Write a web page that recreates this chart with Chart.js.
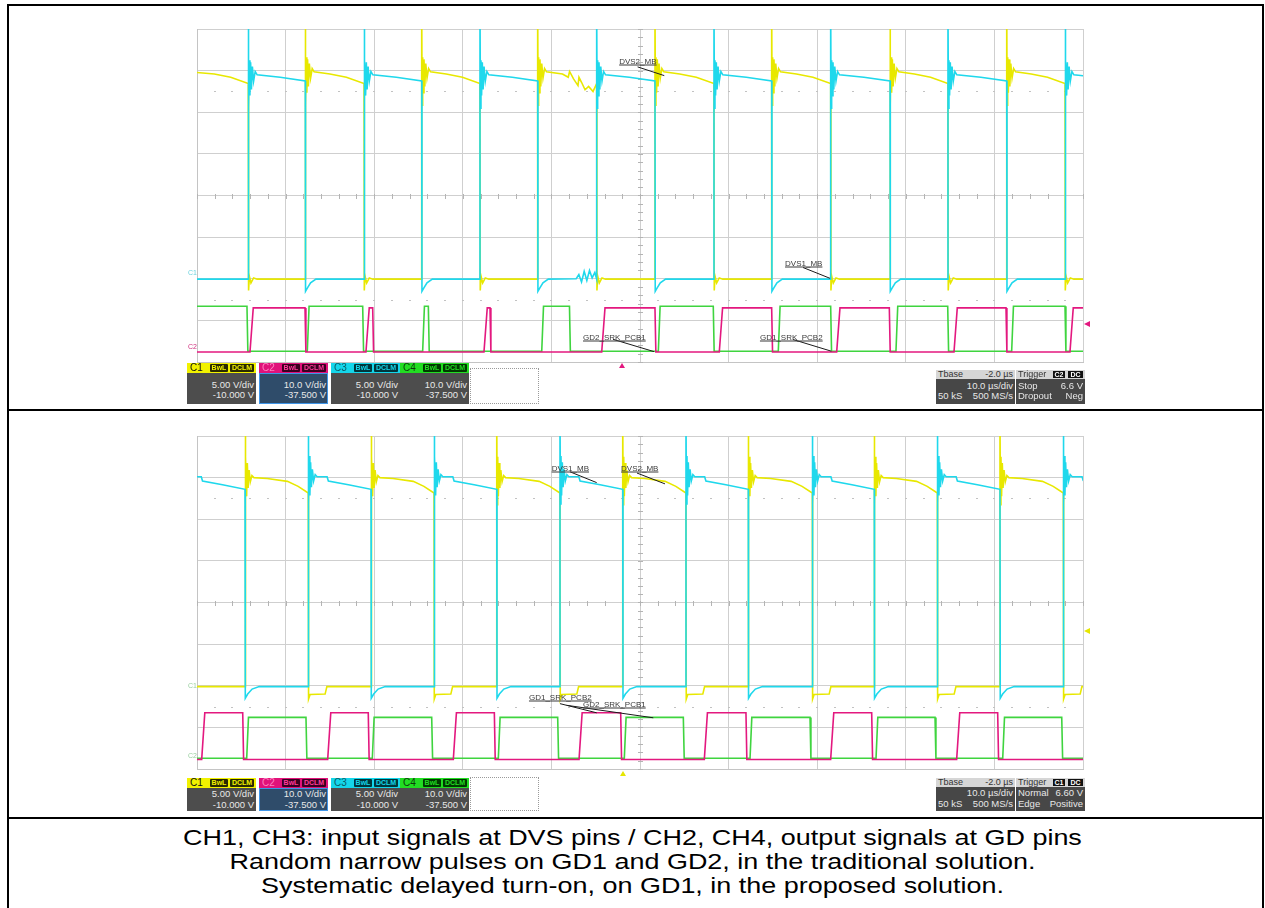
<!DOCTYPE html>
<html><head><meta charset="utf-8">
<script src="https://cdn.jsdelivr.net/npm/chart.js@4.4.1/dist/chart.umd.min.js"></script>
<style>
html,body{margin:0;padding:0;background:#fff;}
#page{position:relative;width:1265px;height:908px;overflow:hidden;font-family:"Liberation Sans",Arial,sans-serif;}
.frame{position:absolute;left:7px;top:4px;width:1253px;height:1000px;border:2px solid #000;}
.rule{position:absolute;left:7px;width:1257px;height:2px;background:#000;}
.scope{position:absolute;left:195px;width:890px;height:337px;}
.scope canvas{position:absolute;left:0;top:0;}
.ann{position:absolute;font-size:8px;color:#3a3a3a;text-decoration:underline;white-space:nowrap;line-height:9px;transform:translateY(-50%);}
.cbox{position:absolute;width:69px;}
.hd{position:relative;height:9.5px;font-size:10px;line-height:10px;}
.hd .n{position:absolute;left:3px;top:0;}
.tag{position:absolute;top:1px;height:7.5px;font-size:7px;line-height:8px;text-align:center;font-weight:bold;border-radius:1px;}
.bd{background:#4d4d4d;color:#e8e8e8;font-size:9.5px;line-height:10.5px;text-align:right;padding-right:2px;box-sizing:border-box;}
.dot{position:absolute;width:69px;border:1px dotted #9a9a9a;box-sizing:border-box;}
.rbox{position:absolute;}
.rhd{position:relative;height:8.5px;background:#d6d6d6;color:#333;font-size:9px;line-height:9px;}
.rbd{background:#474747;color:#e8e8e8;font-size:9.5px;line-height:10.5px;box-sizing:border-box;}
.row{position:relative;height:10.5px;}
.l{position:absolute;left:2px;}
.r{position:absolute;right:2px;}
.ktag{position:absolute;top:0.5px;height:7.5px;background:#111;color:#fff;font-size:7px;line-height:8px;text-align:center;font-weight:bold;}
.mk{position:absolute;font-size:7px;line-height:7px;}
.tri-up{position:absolute;width:0;height:0;border-left:3px solid transparent;border-right:3px solid transparent;}
.tri-left{position:absolute;width:0;height:0;border-top:3px solid transparent;border-bottom:3px solid transparent;}
.cap{position:absolute;left:0;top:826px;width:1265px;text-align:center;font-size:22px;line-height:24px;color:#000;transform:scaleX(1.225);transform-origin:632.5px 0;}
</style></head>
<body><div id="page">
<div class="frame"></div>
<div class="rule" style="top:409px"></div>
<div class="rule" style="top:817px"></div>

<div class="scope" id="scopeTop" style="top:27px"><canvas id="cTop" width="890" height="337"></canvas></div>
<div class="scope" id="scopeBot" style="top:434px"><canvas id="cBot" width="890" height="337"></canvas></div>

<!-- channel markers -->
<div class="mk" style="left:188px;top:269px;color:#6fd3de">C1</div>
<div class="mk" style="left:188px;top:343px;color:#d0307f">C2</div>
<div class="mk" style="left:188px;top:682px;color:#9ad0a0">C1</div>
<div class="mk" style="left:188px;top:752px;color:#9ad0a0">C2</div>
<div class="tri-up" style="left:619px;top:363px;border-bottom:5px solid #e3187f"></div>
<div class="tri-left" style="left:1084px;top:321px;border-right:6px solid #e3187f"></div>
<div class="tri-up" style="left:620px;top:771px;border-bottom:5px solid #e6e600"></div>
<div class="tri-left" style="left:1084px;top:628px;border-right:6px solid #e6e600"></div>

<div id="infoTop"></div>
<div id="infoBot"></div>

<div class="cap">CH1, CH3: input signals at DVS pins / CH2, CH4, output signals at GD pins<br>Random narrow pulses on GD1 and GD2, in the traditional solution.<br>Systematic delayed turn-on, on GD1, in the proposed solution.</div>
</div>
<script>
// ---------------- axes (screen graticule) ----------------
const gridTimes = [-52, -42, -32, -22, -12, -2, 8, 18, 28, 38, 48]; // µs (10 µs/div, Tbase -2 µs)
const gridDivs  = [0, 1, 2, 3, 4, 5, 6, 7, 8];                        // vertical divisions
const dottedRows = [1.5, 6.5];

// ---------------- TOP: traditional solution ----------------
// C1 (yellow, DVS)
const topC1Rise = [-39.78, -26.64, -13.55, -0.31, 12.86, 26.22, 39.39];
const topC1Fall = [-46.21, -33.15, -20.06, -6.89, 6.35, 19.52, 32.76, 45.97];
const topC1High = [[0, 6.97], [0.42, 6.92], [0.7, 6.84], [1, 6.69]];
const topC1Low  = [[0.03, 1.72], [0.12, 2.06], [0.3, 1.9], [0.6, 2.02], [1.0, 1.99]];
const topC1Glitch = [[-10.1, 6.84], [-9.95, 6.98], [-9.5, 6.8], [-9.0, 6.64], [-8.6, 6.72], [-8.2, 6.54], [-7.8, 6.62], [-7.3, 6.5]];
// C3 (cyan, DVS)
const topC3Rise = [-46.21, -33.15, -20.06, -6.89, 6.35, 19.52, 32.76, 45.97];
const topC3Fall = [-39.78, -26.64, -13.55, -0.31, 12.86, 26.22, 39.39];
const topC3High = [[0, 6.9], [0.56, 6.84], [1, 6.75]];
const topC3Low  = [[0.03, 1.7], [0.25, 1.78], [0.6, 1.9], [1.2, 1.99]];
const topC3Glitch = [[-9.2, 2.0], [-8.9, 2.1], [-8.6, 1.92], [-8.3, 2.18], [-8.0, 1.96], [-7.7, 2.2], [-7.4, 2.02], [-7.1, 2.15]];
const topRingT = [0, 0.05, 0.11, 0.18, 0.26, 0.35, 0.46, 0.6, 0.78, 1.0];
const topRing  = [1.7, -0.8, 0.35, -0.5, 0.3, -0.35, 0.2, -0.15, 0.08, 0];
// C2 (magenta, GD) and C4 (green, GD)
const topC2On  = [-46.02, -32.93, -19.61, -6.32, 6.95, 20.20, 33.44, 46.53];
const topC2Off = [-39.81, -32.17, -18.93, -0.31, 12.86, 26.14, 39.31, 49];
const topC2Level = [0.24, 1.30];
const topC4On  = [-53, -39.55, -26.53, -13.09, 0.07, 13.61, 26.89, 39.95];
const topC4Off = [-46.36, -33.30, -25.89, -9.96, 6.27, 19.52, 32.73, 45.97];
const topC4Level = [0.26, 1.34];

// ---------------- BOTTOM: proposed solution ----------------
const botC1Rise = [-46.58, -32.36, -18.17, -3.95, 10.22, 24.44, 38.63];
const botC1Fall = [-39.44, -25.25, -11.03, 3.19, 17.45, 31.56, 45.78];
const botC1High = [[0, 7.0], [0.35, 6.98], [0.67, 6.91], [0.84, 6.79], [1, 6.63]];
const botC1Low  = [[0.03, 1.68], [0.2, 1.79], [1.9, 1.8], [2.1, 1.98]];
const botC3Rise = [-39.44, -25.25, -11.03, 3.19, 17.45, 31.56, 45.78];
const botC3Fall = [-46.58, -32.36, -18.17, -3.95, 10.22, 24.44, 38.63];
const botC3High = [[0, 7.02], [0.3, 7.02], [0.32, 6.92], [0.64, 6.83], [1, 6.72]];
const botC3Low  = [[0.03, 1.7], [0.3, 1.8], [0.8, 1.92], [1.6, 1.98]];
const botRingT = [0, 0.05, 0.11, 0.18, 0.26, 0.35, 0.46, 0.6, 0.78, 1.0];
const botRing  = [1.5, -0.65, 0.5, -0.45, 0.35, -0.25, 0.18, -0.1, 0.05, 0];
const botC2On  = [-51.47, -37.25, -23.07, -8.88, 5.26, 19.52, 33.74];
const botC2Off = [-46.84, -32.67, -18.44, -4.18, 9.96, 24.15, 38.37];
const botC2Level = [0.23, 1.35];
const botC4On  = [-46.39, -32.21, -17.99, -3.77, 10.42, 24.64, 38.94];
const botC4Off = [-39.70, -25.51, -11.29, 2.89, 17.19, 31.30, 45.60];
const botC4Level = [0.26, 1.24];

// ---------------- annotations ----------------
const topAnnLabels = ['DVS2_MB', 'DVS1_MB', 'GD2_SRK_PCB1', 'GD1_SRK_PCB2'];
const topAnnText   = [[-4.35, 7.23], [14.37, 2.38], [-8.43, 0.60], [11.54, 0.60]];
const topAnnLine   = [[-2.27, 7.09, 0.74, 6.88], [16.40, 2.27, 19.45, 2.01], [-5.05, 0.545, -0.42, 0.25], [15.27, 0.54, 19.59, 0.26]];
const botAnnLabels = ['DVS1_MB', 'DVS2_MB', 'GD1_SRK_PCB2', 'GD2_SRK_PCB1'];
const botAnnText   = [[-11.97, 7.23], [-4.14, 7.23], [-14.53, 1.72], [-8.43, 1.57]];
const botAnnLine   = [[-9.90, 7.14, -6.89, 6.88], [-2.34, 7.11, 0.82, 6.85], [-11.03, 1.57, -6.89, 1.35], [-10.27, 1.53, -0.50, 1.23]];

// ---------------- colours ----------------
const colC1 = '#e8e800', colC2 = '#e3187f', colC3 = '#1fd8ec', colC4 = '#3fd43f';

// ---------------- trace builders ----------------
function dvsTrace(rise, fall, highProf, lowProf, ringT, ring, extra) {
  const ev = rise.map(t => [t, 1]).concat(fall.map(t => [t, 0])).sort((a, b) => a[0] - b[0]);
  const durs = [];
  rise.forEach(r => { const f = fall.find(x => x > r); if (f !== undefined) durs.push(f - r); });
  const dHigh = durs.reduce((a, b) => a + b, 0) / durs.length;
  const lowEnd = lowProf[lowProf.length - 1][1];
  const pts = [];
  const push = (x, y) => { if (!pts.length || x >= pts[pts.length - 1].x) pts.push({x, y}); };
  const highSeg = (start, end, ringOn) => {
    const s = start === null ? end - dHigh : start;
    const e = end === null ? s + dHigh : end;
    if (ringOn) ringT.forEach((dt, i) => push(s + dt, highProf[0][1] + ring[i]));
    else push(s, highProf[0][1]);
    highProf.forEach(([f, v]) => { const t = s + f * (e - s); if (f > 0 && t > s + ringT[ringT.length - 1]) push(t, v); });
  };
  const startHigh = ev[0][1] === 0;
  if (startHigh) highSeg(null, ev[0][0], false); else push(-60, lowEnd);
  ev.forEach((e, k) => {
    const next = k + 1 < ev.length ? ev[k + 1][0] : null;
    if (e[1] === 1) { push(e[0], lowEnd); highSeg(e[0], next, true); }
    else { lowProf.forEach(([dt, v]) => push(e[0] + dt, v)); }
  });
  if (!ev.length || ev[ev.length - 1][1] === 0) push(60, lowEnd);
  let out = pts;
  if (extra) out = pts.concat(extra.map(([x, y]) => ({x, y}))).sort((a, b) => a.x - b.x);
  return out;
}
function gdTrace(on, off, level, up, down) {
  const [lo, hi] = level;
  const pts = [{x: -60, y: lo}];
  on.forEach((t, i) => {
    pts.push({x: t, y: lo}, {x: t + up, y: hi}, {x: off[i], y: hi}, {x: off[i] + down, y: lo});
  });
  pts.push({x: 60, y: lo});
  return pts;
}

// ---------------- plugins ----------------
const scopeDeco = {
  id: 'scopeDeco',
  beforeDatasetsDraw(chart) {
    const {ctx, scales: {x, y}} = chart;
    ctx.save();
    ctx.strokeStyle = '#b4b4b4'; ctx.lineWidth = 1;
    const cx = Math.round(x.getPixelForValue(-2)) + 0.5;
    const cy = Math.round(y.getPixelForValue(4)) + 0.5;
    ctx.beginPath();
    for (let v = -52; v <= 48.01; v += 2) { const px = Math.round(x.getPixelForValue(v)) + 0.5; ctx.moveTo(px, cy - 2.5); ctx.lineTo(px, cy + 2.5); }
    for (let v = 0; v <= 8.01; v += 0.2) { const py = Math.round(y.getPixelForValue(v)) + 0.5; ctx.moveTo(cx - 2.5, py); ctx.lineTo(cx + 2.5, py); }
    ctx.stroke();
    ctx.fillStyle = '#c2c2c2';
    dottedRows.forEach(d => {
      const py = Math.round(y.getPixelForValue(d));
      for (let v = -50; v <= 46.01; v += 2) { const px = Math.round(x.getPixelForValue(v)); ctx.fillRect(px - 1, py, 2, 1); }
    });
    ctx.restore();
  }
};
function annPlugin(labels, textPos, linePos, container) {
  return {
    id: 'ann',
    afterDatasetsDraw(chart) {
      const {ctx, scales: {x, y}} = chart;
      ctx.save();
      ctx.strokeStyle = '#1a1a1a'; ctx.lineWidth = 1;
      ctx.beginPath();
      linePos.forEach(l => { ctx.moveTo(x.getPixelForValue(l[0]), y.getPixelForValue(l[1])); ctx.lineTo(x.getPixelForValue(l[2]), y.getPixelForValue(l[3])); });
      ctx.stroke();
      ctx.restore();
      labels.forEach((s, i) => {
        let el = container.querySelector('[data-i="' + i + '"]');
        if (!el) { el = document.createElement('div'); el.className = 'ann'; el.dataset.i = i; el.textContent = s; container.appendChild(el); }
        el.style.left = x.getPixelForValue(textPos[i][0]) + 'px';
        el.style.top = y.getPixelForValue(textPos[i][1]) + 'px';
      });
    }
  };
}

function makeScope(canvasId, containerId, datasets, annL, annT, annLn) {
  const ds = datasets.map(d => ({data: d.data, borderColor: d.color, borderWidth: 1.6, pointRadius: 0, tension: 0, clip: 0, fill: false}));
  return new Chart(document.getElementById(canvasId), {
    type: 'line',
    data: {datasets: ds},
    options: {
      responsive: false, animation: false, devicePixelRatio: 1, parsing: false, normalized: true,
      layout: {padding: 2},
      plugins: {legend: {display: false}, tooltip: {enabled: false}},
      events: [],
      scales: {
        x: {type: 'linear', min: gridTimes[0], max: gridTimes[gridTimes.length - 1],
            afterBuildTicks: s => { s.ticks = gridTimes.map(v => ({value: v})); },
            ticks: {display: false}, grid: {color: '#cfcfcf', lineWidth: 1, drawTicks: false},
            border: {display: true, color: '#c4c4c4'}},
        y: {type: 'linear', min: gridDivs[0], max: gridDivs[gridDivs.length - 1],
            afterBuildTicks: s => { s.ticks = gridDivs.map(v => ({value: v})); },
            ticks: {display: false}, grid: {color: '#cfcfcf', lineWidth: 1, drawTicks: false},
            border: {display: true, color: '#c4c4c4'}}
      }
    },
    plugins: [scopeDeco, annPlugin(annL, annT, annLn, document.getElementById(containerId))]
  });
}

// dataset 0 is drawn on top
makeScope('cTop', 'scopeTop', [
  {data: gdTrace(topC2On, topC2Off, topC2Level, 0.37, 0.1), color: colC2},
  {data: gdTrace(topC4On, topC4Off, topC4Level, 0.2, 0.1), color: colC4},
  {data: dvsTrace(topC3Rise, topC3Fall, topC3High, topC3Low, topRingT, topRing, topC3Glitch), color: colC3},
  {data: dvsTrace(topC1Rise, topC1Fall, topC1High, topC1Low, topRingT, topRing, topC1Glitch), color: colC1}
], topAnnLabels, topAnnText, topAnnLine);

makeScope('cBot', 'scopeBot', [
  {data: gdTrace(botC2On, botC2Off, botC2Level, 0.35, 0.1), color: colC2},
  {data: gdTrace(botC4On, botC4Off, botC4Level, 0.2, 0.1), color: colC4},
  {data: dvsTrace(botC3Rise, botC3Fall, botC3High, botC3Low, botRingT, botRing, null), color: colC3},
  {data: dvsTrace(botC1Rise, botC1Fall, botC1High, botC1Low, botRingT, botRing, null), color: colC1}
], botAnnLabels, botAnnText, botAnnLine);

// ---------------- scope info bars ----------------
const chanNames = ['C1', 'C2', 'C3', 'C4'];
const chanScale = ['5.00 V/div', '10.0 V/div', '5.00 V/div', '10.0 V/div'];
const chanOffset = ['-10.000 V', '-37.500 V', '-10.000 V', '-37.500 V'];
const chanHead = ['#f2f200', '#e0127a', '#14d6ea', '#22dd22'];
const chanText = ['#111', '#ff7fc0', '#0b5b66', '#0b3a0b'];
const chanTagBg = ['#2a2a00', '#3a0020', '#00363c', '#003a00'];
const chanTagFg = ['#f2f200', '#ff3b9a', '#14d6ea', '#22dd22'];
const chanLeft = [187, 259, 331, 400];
const trigTop = ['C2', 'DC', 'Stop', '6.6 V', 'Dropout', 'Neg'];
const trigBot = ['C1', 'DC', 'Normal', '6.60 V', 'Edge', 'Positive'];

// g: {top, bottom, pad, rTop, rPad, dotTop}
function infoBar(el, g, trig) {
  let h = '';
  const bodyH = g.bottom - g.top - 9.5;
  chanNames.forEach((n, i) => {
    const sel = i === 1;
    h += '<div class="cbox" style="left:' + chanLeft[i] + 'px;top:' + g.top + 'px">' +
      '<div class="hd" style="background:' + chanHead[i] + ';color:' + chanText[i] + '"><span class="n">' + n + '</span>' +
      '<span class="tag" style="left:23px;width:18px;background:' + chanTagBg[i] + ';color:' + chanTagFg[i] + '">BwL</span>' +
      '<span class="tag" style="left:43px;width:24px;background:' + chanTagBg[i] + ';color:' + chanTagFg[i] + '">DCLM</span></div>' +
      '<div class="bd" style="height:' + bodyH + 'px;padding-top:' + g.pad + 'px;' + (sel ? 'background:#2f4c6a;box-shadow:inset 0 0 0 1px #3f95e8;' : '') + '">' +
      '<div>' + chanScale[i] + '</div><div>' + chanOffset[i] + '</div></div></div>';
  });
  h += '<div class="dot" style="left:470px;top:' + g.dotTop + 'px;height:' + (g.bottom - g.dotTop) + 'px"></div>';
  const rH = g.bottom - g.rTop - 8.5;
  h += '<div class="rbox" style="left:936px;top:' + g.rTop + 'px;width:79px">' +
    '<div class="rhd"><span class="l">Tbase</span><span class="r">-2.0 µs</span></div>' +
    '<div class="rbd" style="height:' + rH + 'px;padding-top:' + g.rPad + 'px"><div class="row"><span class="r">10.0 µs/div</span></div>' +
    '<div class="row"><span class="l">50 kS</span><span class="r">500 MS/s</span></div></div></div>';
  h += '<div class="rbox" style="left:1016px;top:' + g.rTop + 'px;width:69px">' +
    '<div class="rhd"><span class="l">Trigger</span><span class="ktag" style="left:37px;width:12px">' + trig[0] + '</span>' +
    '<span class="ktag" style="left:52px;width:15px">' + trig[1] + '</span></div>' +
    '<div class="rbd" style="height:' + rH + 'px;padding-top:' + g.rPad + 'px"><div class="row"><span class="l">' + trig[2] + '</span><span class="r">' + trig[3] + '</span></div>' +
    '<div class="row"><span class="l">' + trig[4] + '</span><span class="r">' + trig[5] + '</span></div></div></div>';
  el.innerHTML = h;
}
infoBar(document.getElementById('infoTop'), {top: 363, bottom: 403.5, pad: 7, rTop: 370, rPad: 2, dotTop: 368}, trigTop);
infoBar(document.getElementById('infoBot'), {top: 778, bottom: 811, pad: 1.5, rTop: 778, rPad: 1.5, dotTop: 777}, trigBot);
</script>
</body></html>
